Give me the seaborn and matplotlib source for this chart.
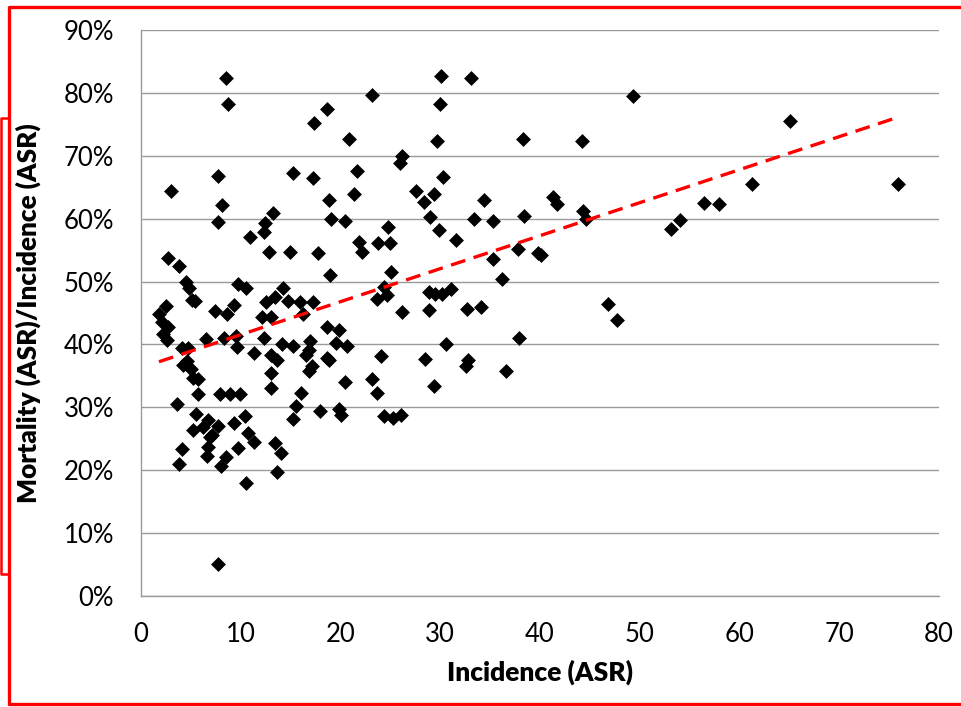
import numpy as np
import pandas as pd
import matplotlib
matplotlib.use("Agg")
import matplotlib.pyplot as plt
from matplotlib.lines import Line2D
from matplotlib.ticker import FuncFormatter
import seaborn as sns

# Incidence (ASR) and mortality/incidence ratio (%) per registry
incidence = [
    8.5, 8.7, 17.3, 18.6, 7.75, 3.0, 15.2, 17.2, 8.1, 18.8,
    7.75, 13.2, 12.4, 12.3, 10.9, 2.7, 12.8, 14.9, 17.7, 19.0,
    3.85, 4.5, 4.85, 5.1, 5.4, 2.5, 1.8, 2.1, 2.7, 2.2,
    2.6, 4.1, 4.75, 7.4, 8.6, 9.35, 6.5, 8.35, 9.5, 9.65,
    9.75, 10.5, 11.3, 4.25, 4.6, 5.0, 5.2, 5.75, 5.75, 7.9,
    8.9, 9.9, 3.6, 5.5, 6.7, 7.7, 6.25, 5.2, 7.1, 6.9,
    9.35, 10.4, 10.75, 11.3, 4.1, 6.7, 9.75, 13.4, 12.5, 13.4,
    14.2, 14.7, 15.9, 17.2, 12.1, 13.0, 16.2, 18.6, 12.3, 14.1,
    15.2, 16.9, 16.8, 16.5, 13.0, 13.6, 18.6, 17.1, 16.8, 13.0,
    13.0, 16.0, 15.5, 15.2, 17.9, 18.9, 3.8, 6.6, 8.0, 8.5,
    14.0, 13.6, 10.5, 7.75, 23.2, 30.1, 33.1, 30.0, 20.9, 29.7,
    38.3, 26.2, 26.0, 21.7, 30.3, 21.4, 27.6, 28.4, 29.4, 34.4,
    20.5, 29.0, 33.4, 35.3, 38.4, 24.8, 29.9, 21.9, 23.8, 25.0,
    22.2, 31.6, 37.8, 39.8, 35.3, 25.1, 36.2, 24.4, 24.7, 23.7,
    28.9, 29.5, 30.2, 31.1, 26.2, 28.9, 32.7, 34.1, 19.85, 19.5,
    20.7, 30.6, 37.9, 18.8, 24.1, 28.5, 32.75, 32.6, 36.6, 20.5,
    23.2, 23.7, 29.4, 19.8, 20.1, 24.4, 25.3, 26.1, 49.3, 44.2,
    65.1, 75.9, 61.3, 41.3, 41.7, 44.3, 44.6, 56.4, 57.9, 54.0,
    53.1, 40.1, 46.8, 47.7,
]
ratio_pct = [
    82.4, 78.3, 75.2, 77.5, 66.8, 64.4, 67.2, 66.4, 62.1, 63.0,
    59.4, 60.9, 59.3, 57.9, 57.1, 53.7, 54.7, 54.7, 54.5, 59.9,
    52.5, 50.0, 48.9, 47.1, 46.9, 46.1, 44.9, 43.5, 42.8, 41.7,
    40.7, 39.5, 39.5, 45.3, 44.8, 46.3, 40.9, 41.1, 41.3, 39.6,
    49.6, 48.9, 38.6, 36.7, 37.3, 36.1, 34.7, 34.5, 32.1, 32.1,
    32.1, 32.1, 30.5, 29.0, 28.0, 27.1, 26.9, 26.4, 25.6, 25.3,
    27.5, 28.7, 25.9, 24.5, 23.4, 23.7, 23.5, 24.4, 46.8, 47.6,
    48.9, 46.9, 46.8, 46.8, 44.3, 44.3, 44.8, 42.8, 41.1, 40.0,
    39.8, 40.5, 39.1, 38.4, 38.3, 37.6, 37.9, 36.5, 35.7, 35.4,
    33.0, 32.3, 30.2, 28.1, 29.4, 51.0, 21.0, 22.3, 20.7, 22.1,
    22.7, 19.7, 17.9, 5.1, 79.7, 82.7, 82.3, 78.3, 72.7, 72.4,
    72.6, 69.9, 68.9, 67.6, 66.7, 64.0, 64.4, 62.7, 63.9, 63.0,
    59.7, 60.2, 60.0, 59.7, 60.4, 58.6, 58.2, 56.3, 56.2, 56.2,
    54.7, 56.6, 55.2, 54.5, 53.6, 51.5, 50.4, 49.1, 47.9, 47.2,
    48.3, 48.0, 48.1, 48.8, 45.2, 45.4, 45.6, 45.9, 42.3, 40.3,
    39.8, 40.0, 41.1, 37.5, 38.2, 37.7, 37.6, 36.6, 35.8, 34.0,
    34.5, 32.2, 33.4, 29.8, 28.8, 28.6, 28.3, 28.8, 79.5, 72.4,
    75.6, 65.5, 65.5, 63.5, 62.4, 61.2, 59.9, 62.5, 62.3, 59.8,
    58.3, 54.3, 46.5, 43.9,
]
x_ticks = [0, 10, 20, 30, 40, 50, 60, 70, 80]
y_ticks = [0, 10, 20, 30, 40, 50, 60, 70, 80, 90]

df = pd.DataFrame({"Incidence (ASR)": incidence,
                   "ratio": np.array(ratio_pct) / 100.0})

sns.set_theme(style="white")
plt.rcParams["font.family"] = ["Lato", "DejaVu Sans"]

fig = plt.figure(figsize=(9.61, 7.07), dpi=100)
ax = fig.add_axes([141 / 961, 1 - 596 / 707, (939 - 141) / 961, (596 - 30) / 707])

# data points
sns.scatterplot(data=df, x="Incidence (ASR)", y="ratio", ax=ax,
                marker="D", s=50, color="black", edgecolor="black",
                linewidth=0.5, zorder=3)

# linear trend over the observed incidence range
sns.regplot(data=df, x="Incidence (ASR)", y="ratio", ax=ax, scatter=False,
            ci=None, truncate=True,
            line_kws=dict(color="#ff0000", lw=2.4, ls=(0, (4.5, 2.6)), zorder=4))

ax.set_xlim(0, 80)
ax.set_ylim(0, 0.9)
ax.set_xticks(x_ticks)
ax.set_yticks([v / 100 for v in y_ticks])
ax.yaxis.set_major_formatter(FuncFormatter(lambda v, p: f"{v * 100:.0f}%"))

grid_c = "#9a9a9a"
ax.grid(axis="y", color=grid_c, lw=1.0, zorder=0)
ax.grid(axis="x", visible=False)
for side in ["top", "right"]:
    ax.spines[side].set_visible(False)
for side in ["left", "bottom"]:
    ax.spines[side].set_color(grid_c)
    ax.spines[side].set_linewidth(1.0)

ax.tick_params(axis="both", which="major", direction="out", length=5.5,
               width=1.0, color=grid_c, labelsize=18.5, labelcolor="black")
ax.tick_params(axis="y", pad=14)
ax.tick_params(axis="x", pad=13)

ax.set_xlabel("Incidence (ASR)", fontsize=19, fontweight="heavy",
              color="black", labelpad=9)
ax.set_ylabel("Mortality (ASR)/Incidence (ASR)", fontsize=18.8,
              fontweight="heavy", color="black", labelpad=16)

# red selection frame around the chart
red = "#ff0000"
fig.add_artist(Line2D([8.5 / 961, 8.5 / 961, 1.0], [1 - 704 / 707, 1 - 7 / 707, 1 - 7 / 707],
                      transform=fig.transFigure, color=red, lw=2.4))
fig.add_artist(Line2D([8.5 / 961, 1.0], [1 - 704 / 707, 1 - 704 / 707],
                      transform=fig.transFigure, color=red, lw=2.4))
fig.add_artist(Line2D([8.5 / 961, 0.8 / 961, 0.8 / 961, 8.5 / 961],
                      [1 - 118 / 707, 1 - 118 / 707, 1 - 574 / 707, 1 - 574 / 707],
                      transform=fig.transFigure, color=red, lw=1.8))

fig.savefig("out.png", dpi=100)
